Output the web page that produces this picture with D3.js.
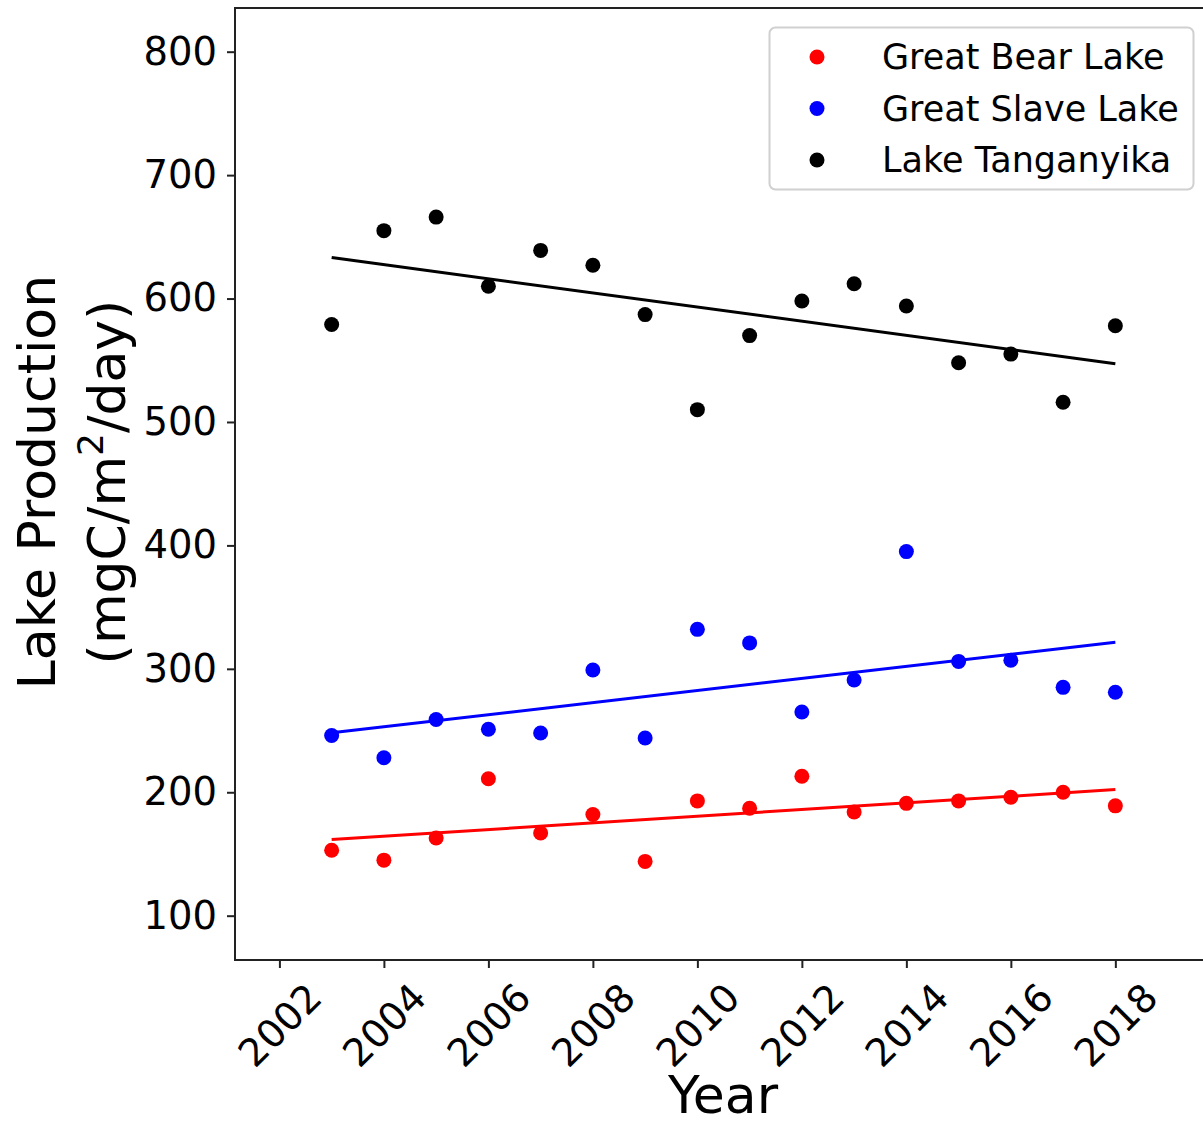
<!DOCTYPE html>
<html>
<head>
<meta charset="utf-8">
<script src="https://cdn.jsdelivr.net/npm/d3@7"></script>
<style>
  html, body { margin: 0; padding: 0; background: #fff; }
  svg { display: block; font-family: "DejaVu Sans", sans-serif; }
</style>
</head>
<body>
<svg id="chart" width="1203" height="1126"></svg>
<script>
const years = [2003, 2004, 2005, 2006, 2007, 2008, 2009, 2010, 2011, 2012, 2013, 2014, 2015, 2016, 2017, 2018];
const greatBear  = [153, 145, 163, 211, 167, 182, 144, 193, 187, 213, 184, 191, 193, 196, 200, 189];
const greatSlave = [246, 228, 259, 251, 248, 299, 244, 332, 321, 265, 291, 395, 306, 307, 285, 281];
const tanganyika = [579, 655, 666, 610, 639, 627, 587, 510, 570, 598, 612, 594, 548, 555, 516, 578];
const seriesNames = ["Great Bear Lake", "Great Slave Lake", "Lake Tanganyika"];
const seriesColors = ["#ff0000", "#0000ff", "#000000"];
const xTicks = [2002, 2004, 2006, 2008, 2010, 2012, 2014, 2016, 2018];
const yTicks = [100, 200, 300, 400, 500, 600, 700, 800];

const series = [greatBear, greatSlave, tanganyika];

const svg = d3.select("#chart");
const pLeft = 235, pRight = 1212, pTop = 8, pBottom = 960;

const x = d3.scaleLinear().domain([2001.15, 2019.85]).range([pLeft, pRight]);
const y = d3.scaleLinear().domain([64.1, 835.4]).range([pBottom, pTop]);

// frame
svg.append("rect")
  .attr("x", pLeft).attr("y", pTop)
  .attr("width", pRight - pLeft).attr("height", pBottom - pTop)
  .attr("fill", "none").attr("stroke", "#222").attr("stroke-width", 2);

// Y axis
const yAxis = svg.append("g").attr("transform", `translate(${pLeft},0)`)
  .call(d3.axisLeft(y).tickValues(yTicks).tickSize(8).tickPadding(10).tickFormat(d3.format("d")));
yAxis.select(".domain").remove();
yAxis.selectAll(".tick line").attr("stroke", "#222").attr("stroke-width", 2);
yAxis.selectAll(".tick text")
  .attr("font-size", 38.5).attr("fill", "#000")
  .attr("font-family", "DejaVu Sans, sans-serif");

// X axis
const xAxis = svg.append("g").attr("transform", `translate(0,${pBottom})`)
  .call(d3.axisBottom(x).tickValues(xTicks).tickSize(8).tickFormat(d3.format("d")));
xAxis.select(".domain").remove();
xAxis.selectAll(".tick line").attr("stroke", "#222").attr("stroke-width", 2);
xAxis.selectAll(".tick text")
  .attr("font-size", 38.5).attr("fill", "#000")
  .attr("font-family", "DejaVu Sans, sans-serif")
  .attr("text-anchor", "middle")
  .attr("y", 0).attr("dy", "0.35em")
  .attr("transform", "translate(0,65) rotate(-45)");

// Regression lines
function linreg(xs, ys) {
  const n = xs.length;
  const mx = d3.mean(xs), my = d3.mean(ys);
  let sxy = 0, sxx = 0;
  for (let i = 0; i < n; i++) { sxy += (xs[i] - mx) * (ys[i] - my); sxx += (xs[i] - mx) ** 2; }
  const b = sxy / sxx;
  return xv => my + b * (xv - mx);
}
const line = d3.line().x(d => x(d[0])).y(d => y(d[1]));
series.forEach((s, i) => {
  const f = linreg(years, s);
  const ext = d3.extent(years);
  svg.append("path")
    .attr("d", line([[ext[0], f(ext[0])], [ext[1], f(ext[1])]]))
    .attr("fill", "none").attr("stroke", seriesColors[i]).attr("stroke-width", 3);
});

// Points
series.forEach((s, i) => {
  svg.append("g").selectAll("circle")
    .data(years.map((yr, j) => [yr, s[j]]))
    .join("circle")
    .attr("cx", d => x(d[0])).attr("cy", d => y(d[1]))
    .attr("r", 7.5).attr("fill", seriesColors[i]);
});

// Legend
const lg = svg.append("g");
lg.append("rect")
  .attr("x", 769.5).attr("y", 27.5).attr("width", 424).attr("height", 162)
  .attr("rx", 6).attr("fill", "#fff").attr("fill-opacity", 0.9)
  .attr("stroke", "#d0d0d0").attr("stroke-width", 2);
seriesNames.forEach((name, i) => {
  const cy = 57 + i * 51.5;
  lg.append("circle").attr("cx", 817).attr("cy", cy).attr("r", 7.5).attr("fill", seriesColors[i]);
  lg.append("text").attr("x", 882).attr("y", cy).attr("dy", "0.35em")
    .attr("font-size", 35).attr("fill", "#000").text(name);
});

// Axis labels
svg.append("text")
  .attr("x", 723).attr("y", 1113)
  .attr("text-anchor", "middle").attr("font-size", 52).attr("fill", "#000")
  .text("Year");

const yl = svg.append("text")
  .attr("transform", "translate(0,482) rotate(-90)")
  .attr("text-anchor", "middle").attr("font-size", 52).attr("fill", "#000");
yl.append("tspan").attr("x", 0).attr("y", 55).text("Lake Production");
const l2 = yl.append("tspan").attr("x", 0).attr("y", 125);
l2.append("tspan").text("(mgC/m");
l2.append("tspan").attr("font-size", 36).attr("dy", -22).text("2");
l2.append("tspan").attr("dy", 22).text("/day)");
</script>
</body>
</html>
